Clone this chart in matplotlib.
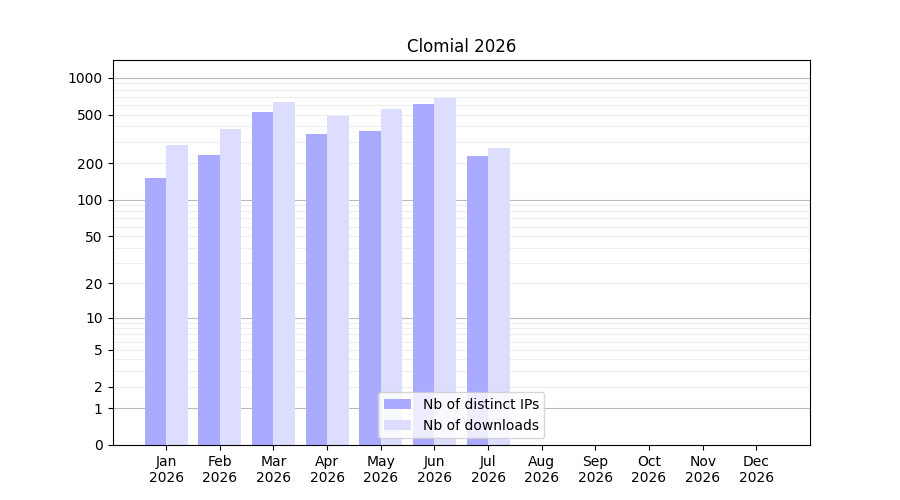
import numpy as np
import matplotlib
matplotlib.use("Agg")
import matplotlib.pyplot as plt
from matplotlib.ticker import FixedLocator, FixedFormatter

months = ["Jan", "Feb", "Mar", "Apr", "May", "Jun", "Jul", "Aug", "Sep", "Oct", "Nov", "Dec"]
labels = [m + "\n2026" for m in months]
ips = [150, 235, 530, 350, 370, 610, 230, 0, 0, 0, 0, 0]
downloads = [280, 380, 640, 490, 560, 690, 265, 0, 0, 0, 0, 0]

fig, ax = plt.subplots(figsize=(9, 5), dpi=100)
f = lambda y: np.log10(np.asarray(y, dtype=float) + 1)
finv = lambda v: 10 ** np.asarray(v, dtype=float) - 1
ax.set_yscale("function", functions=(f, finv))

x = np.arange(len(months))
ax.bar(x - 0.2, ips, width=0.4, color="#aaaaff", label="Nb of distinct IPs", zorder=2)
ax.bar(x + 0.2, downloads, width=0.4, color="#ddddff", label="Nb of downloads", zorder=2)

major = [0, 1, 2, 5, 10, 20, 50, 100, 200, 500, 1000]
ax.yaxis.set_major_locator(FixedLocator(major))
ax.yaxis.set_major_formatter(FixedFormatter([str(v) for v in major]))
minor = [3, 4, 6, 7, 8, 9] + [30, 40, 60, 70, 80, 90] + [300, 400, 600, 700, 800, 900]
ax.yaxis.set_minor_locator(FixedLocator(minor))
for v in [1, 10, 100, 1000]:
    ax.axhline(v, color="#bbbbbb", lw=0.8, zorder=0)
for v in [2, 5, 20, 50, 200, 500] + minor:
    ax.axhline(v, color="#eeeeee", lw=0.8, zorder=0)
ax.tick_params(axis="y", which="minor", length=0)

ax.set_ylim(0, 1400)
ax.set_xlim(-1, 12)
ax.set_xticks(x)
ax.set_xticklabels(labels)
ax.set_title("Clomial 2026")
ax.legend(loc="lower center")
fig.savefig("out.png")
